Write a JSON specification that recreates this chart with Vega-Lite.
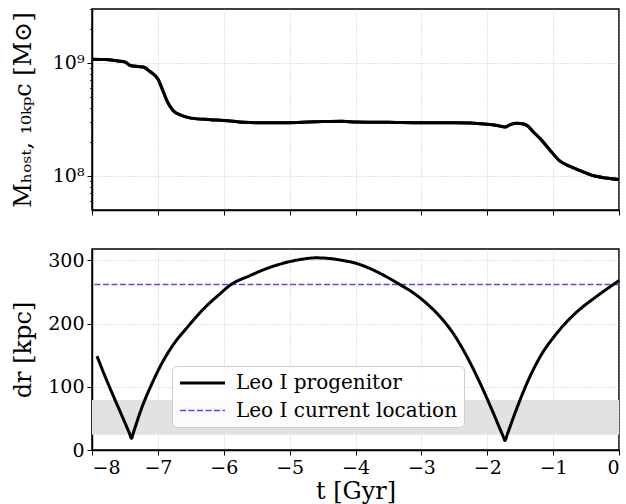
{
  "$schema": "https://vega.github.io/schema/vega-lite/v6.json",
  "padding": {"left": 10, "top": 7, "right": 5, "bottom": 2},
  "spacing": 31,
  "config": {
    "font": "DejaVu Serif",
    "view": {"stroke": "black", "strokeWidth": 1.5},
    "axis": {
      "labelFont": "DejaVu Serif", "labelFontSize": 19, "labelColor": "black",
      "titleFont": "DejaVu Serif", "titleFontSize": 24, "titleFontWeight": "normal", "titleColor": "black",
      "tickColor": "black", "tickSize": 5, "tickWidth": 1, "domainColor": "black", "domainWidth": 1.5,
      "gridColor": "#b8b8b8", "gridDash": [1, 2], "gridWidth": 0.8, "labelPadding": 3
    },
    "legend": {
      "labelFont": "DejaVu Serif", "labelFontSize": 20, "labelColor": "black"
    }
  },
  "datasets": {
    "mass": [
      {"t": -8.0, "M": 1.08e9}, {"t": -7.8, "M": 1.07e9}, {"t": -7.6, "M": 1.04e9}, {"t": -7.5, "M": 1.02e9},
      {"t": -7.42, "M": 0.95e9}, {"t": -7.3, "M": 0.93e9}, {"t": -7.22, "M": 0.92e9}, {"t": -7.12, "M": 0.84e9},
      {"t": -7.0, "M": 0.72e9}, {"t": -6.93, "M": 0.58e9}, {"t": -6.86, "M": 0.46e9}, {"t": -6.77, "M": 0.38e9},
      {"t": -6.65, "M": 0.345e9}, {"t": -6.5, "M": 0.325e9}, {"t": -6.2, "M": 0.315e9}, {"t": -6.0, "M": 0.31e9},
      {"t": -5.7, "M": 0.298e9}, {"t": -5.5, "M": 0.295e9}, {"t": -5.0, "M": 0.296e9}, {"t": -4.5, "M": 0.303e9},
      {"t": -4.2, "M": 0.305e9}, {"t": -4.0, "M": 0.3e9}, {"t": -3.5, "M": 0.298e9}, {"t": -3.0, "M": 0.295e9},
      {"t": -2.5, "M": 0.295e9}, {"t": -2.0, "M": 0.287e9}, {"t": -1.85, "M": 0.28e9}, {"t": -1.73, "M": 0.271e9},
      {"t": -1.65, "M": 0.285e9}, {"t": -1.55, "M": 0.293e9}, {"t": -1.45, "M": 0.288e9}, {"t": -1.38, "M": 0.275e9},
      {"t": -1.3, "M": 0.245e9}, {"t": -1.2, "M": 0.215e9}, {"t": -1.05, "M": 0.17e9}, {"t": -0.9, "M": 0.136e9},
      {"t": -0.75, "M": 0.122e9}, {"t": -0.6, "M": 0.112e9}, {"t": -0.4, "M": 0.101e9}, {"t": -0.2, "M": 0.096e9},
      {"t": 0.0, "M": 0.093e9}
    ],
    "dr": [
      {"t": -7.924, "dr": 148.5}, {"t": -7.8, "dr": 116}, {"t": -7.67, "dr": 84}, {"t": -7.52, "dr": 48},
      {"t": -7.43, "dr": 26}, {"t": -7.4, "dr": 18.5}, {"t": -7.37, "dr": 28}, {"t": -7.24, "dr": 68},
      {"t": -7.09, "dr": 105}, {"t": -6.94, "dr": 137},
      {"t": -6.79, "dr": 163}, {"t": -6.53, "dr": 197}, {"t": -6.28, "dr": 226}, {"t": -6.08, "dr": 245},
      {"t": -5.9, "dr": 261}, {"t": -5.6, "dr": 276}, {"t": -5.35, "dr": 287}, {"t": -5.0, "dr": 298},
      {"t": -4.8, "dr": 302}, {"t": -4.6, "dr": 304}, {"t": -4.4, "dr": 303}, {"t": -4.2, "dr": 300},
      {"t": -3.98, "dr": 295}, {"t": -3.8, "dr": 288}, {"t": -3.6, "dr": 278}, {"t": -3.33, "dr": 262},
      {"t": -3.1, "dr": 247}, {"t": -2.9, "dr": 230}, {"t": -2.7, "dr": 209}, {"t": -2.52, "dr": 185},
      {"t": -2.31, "dr": 148}, {"t": -2.11, "dr": 106}, {"t": -1.91, "dr": 59}, {"t": -1.76, "dr": 22},
      {"t": -1.73, "dr": 15}, {"t": -1.7, "dr": 23.5},
      {"t": -1.58, "dr": 58}, {"t": -1.4, "dr": 105}, {"t": -1.2, "dr": 147}, {"t": -0.95, "dr": 184},
      {"t": -0.645, "dr": 218}, {"t": -0.34, "dr": 243}, {"t": 0.0, "dr": 268}
    ],
    "band": [{"lo": 24, "hi": 79}],
    "current": [{"dr": 262, "series": "Leo I current location"}]
  },
  "vconcat": [
    {
      "width": 527,
      "height": 201,
      "data": {"name": "mass"},
      "layer": [
        {
          "mark": {"type": "line", "color": "black", "strokeWidth": 3, "interpolate": "monotone"},
          "encoding": {
            "x": {"field": "t", "type": "quantitative",
                  "scale": {"domain": [-8, 0], "nice": false, "zero": false},
                  "axis": {"values": [-8, -7, -6, -5, -4, -3, -2, -1, 0], "labels": false, "title": null}},
            "y": {"field": "M", "type": "quantitative",
                  "scale": {"type": "log", "domain": [5e7, 3e9], "nice": false},
                  "axis": {"values": [1e8, 1e9], "labelExpr": "datum.value >= 5e8 ? '10⁹' : '10⁸'",
                           "title": "Mₕₒₛₜ, ₁₀ₖₚc [M⊙]", "titleX": -57, "titleBaseline": "bottom"}}
          }
        },
        {
          "mark": {"type": "line", "color": "black", "strokeWidth": 3, "interpolate": "monotone"},
          "encoding": {
            "x": {"field": "t", "type": "quantitative"},
            "y": {"field": "M", "type": "quantitative",
                  "axis": {"orient": "left", "values": [6e7, 7e7, 8e7, 9e7, 2e8, 3e8, 4e8, 5e8, 6e8, 7e8, 8e8, 9e8, 2e9, 3e9],
                           "labels": false, "grid": false, "tickSize": 2.5, "tickWidth": 0.8, "domain": false, "title": null}}
          }
        }
      ],
      "resolve": {"axis": {"y": "independent"}}
    },
    {
      "width": 527,
      "height": 201,
      "layer": [
        {
          "data": {"name": "band"},
          "mark": {"type": "rect", "color": "#e2e2e2"},
          "encoding": {
            "y": {"field": "lo", "type": "quantitative"},
            "y2": {"field": "hi"}
          }
        },
        {
          "data": {"name": "current"},
          "mark": {"type": "rule"},
          "encoding": {
            "y": {"field": "dr", "type": "quantitative"},
            "color": {"field": "series", "type": "nominal"},
            "strokeDash": {"field": "series", "type": "nominal"},
            "strokeWidth": {"field": "series", "type": "nominal"}
          }
        },
        {
          "data": {"name": "dr"},
          "transform": [{"calculate": "'Leo I progenitor'", "as": "series"}],
          "mark": {"type": "line", "interpolate": "monotone"},
          "encoding": {
            "x": {"field": "t", "type": "quantitative",
                  "scale": {"domain": [-8, 0], "nice": false, "zero": false},
                  "axis": {"values": [-8, -7, -6, -5, -4, -3, -2, -1, 0], "title": "t [Gyr]", "format": "d", "titlePadding": 2}},
            "y": {"field": "dr", "type": "quantitative",
                  "scale": {"domain": [0, 318], "nice": false},
                  "axis": {"values": [0, 100, 200, 300], "title": "dr [kpc]", "titleX": -57, "titleBaseline": "bottom"}},
            "color": {"field": "series", "type": "nominal",
                      "scale": {"domain": ["Leo I progenitor", "Leo I current location"], "range": ["black", "#4d4dff"]},
                      "legend": {"orient": "none", "legendX": 80, "legendY": 357, "title": null,
                                 "symbolType": "M-2.5,0H2.5", "symbolSize": 324, "symbolOffset": 13.5, "labelLimit": 0,
                                 "fillColor": "rgba(255,255,255,0.85)", "strokeColor": "#cccccc", "cornerRadius": 4,
                                 "padding": 6.5, "labelOffset": 23, "rowPadding": 7}},
            "strokeDash": {"field": "series", "type": "nominal",
                           "scale": {"domain": ["Leo I progenitor", "Leo I current location"], "range": [[1, 0], [6, 2.5]]}},
            "strokeWidth": {"field": "series", "type": "nominal",
                            "scale": {"domain": ["Leo I progenitor", "Leo I current location"], "range": [3, 1.5]}}
          }
        }
      ]
    }
  ]
}
